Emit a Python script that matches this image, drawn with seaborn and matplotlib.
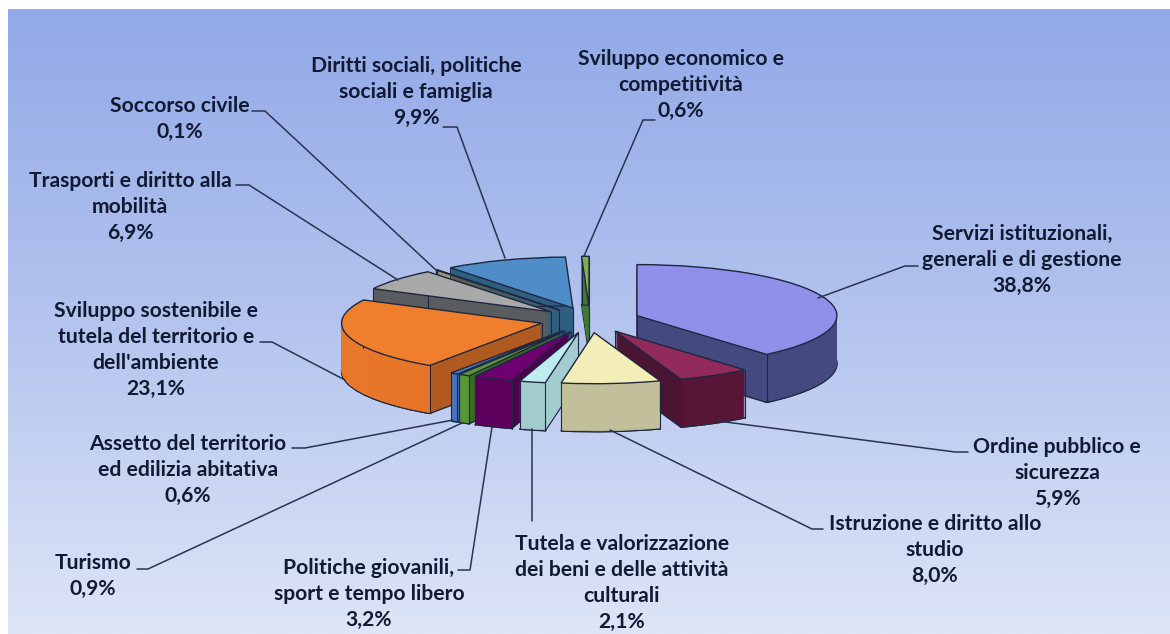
import numpy as np
import matplotlib
matplotlib.use("Agg")
import matplotlib.pyplot as plt
import seaborn as sns

# Dati
labels = [
    "Servizi istituzionali,\ngenerali e di gestione",
    "Ordine pubblico e\nsicurezza",
    "Istruzione e diritto allo\nstudio",
    "Tutela e valorizzazione\ndei beni e delle attività\nculturali",
    "Politiche giovanili,\nsport e tempo libero",
    "Turismo",
    "Assetto del territorio\ned edilizia abitativa",
    "Sviluppo sostenibile e\ntutela del territorio e\ndell'ambiente",
    "Trasporti e diritto alla\nmobilità",
    "Soccorso civile",
    "Diritti sociali, politiche\nsociali e famiglia",
    "Sviluppo economico e\ncompetitività",
]
values = [38.8, 5.9, 8.0, 2.1, 3.2, 0.9, 0.6, 23.1, 6.9, 0.1, 9.9, 0.6]

top_colors = ["#8E90EA", "#922A5B", "#F3EEB8", "#BFEDEF", "#6F0070", "#5F9438",
              "#4F81C4", "#EF7F2D", "#A9A9A9", "#8A6A0A", "#4F8DC8", "#7DB04A"]
radial_colors = ["#44497F", "#4A1433", "#C2C09A", "#A3CCCF", "#4F0050", "#3A6A2A",
                 "#3F68A8", "#B05A20", "#5A5D60", "#8A6400", "#2F5F80", "#3F7A35"]
outer_colors = ["#44497F", "#5A1636", "#C2C09A", "#A3CCCF", "#5F005F", "#5A9A35",
                "#4A76C0", "#E9772A", "#5A5D60", "#8A6400", "#2F5F80", "#3F7A35"]
# ordine di disegno, da dietro in avanti
draw_order = [11, 10, 9, 8, 7, 0, 1, 6, 5, 4, 3, 2]

# posizione dei testi, in pixel
label_x = [1022, 1057, 935, 622, 369, 93, 188, 156, 130, 180, 416, 681]
label_y = [260, 473, 550, 583, 594, 576, 470, 350, 207, 119, 92, 85]

# linee guida, in pixel
leaders = [
    ([918, 905, 818], [266, 266, 298]),
    ([968, 955, 718], [452, 452, 421]),
    ([823, 812, 610], [529, 529, 430]),
    ([532, 532], [521, 429]),
    ([458, 470, 492], [570, 570, 427]),
    ([137, 148, 462], [569, 569, 423]),
    ([292, 305, 453], [448, 448, 420]),
    ([260, 272, 345], [342, 342, 380]),
    ([236, 249, 398], [185, 185, 280]),
    ([252, 265, 437], [111, 111, 271]),
    ([443, 457, 505], [127, 127, 258]),
    ([655, 643, 584], [120, 120, 256]),
]

W, H = 1170, 634
CX, CY = 590, 320       # centro della torta
RX, RY = 200, 51        # semiassi
DEPTH = 48 / RY
N_LAYERS = 96
EDGE = "#1F2740"

sns.set_theme(style="white")
plt.rcParams["font.family"] = ["Lato", "DejaVu Sans"]

fig = plt.figure(figsize=(W / 100, H / 100), dpi=100, facecolor="white")

# Sfondo
ax_bg = fig.add_axes([0, 0, 1, 1])
cmap = sns.blend_palette(["#92A9E8", "#B4C4EE", "#DDE5F6"], as_cmap=True)
ax_bg.imshow(np.linspace(0, 1, 256).reshape(-1, 1), cmap=cmap, aspect="auto",
             extent=(8, W, H, 9))
ax_bg.set_xlim(0, W)
ax_bg.set_ylim(H, 0)
ax_bg.axis("off")

# Torta
ax = fig.add_axes([0, 0, 1, 1], facecolor="none")
explode = [0.25] * len(values)
rank = {s: r for r, s in enumerate(draw_order)}


def layer(drop, colors, z, **wedgeprops):
    wedges, _ = ax.pie(values, explode=explode, colors=colors, center=(0, -drop),
                       startangle=90, counterclock=False, wedgeprops=wedgeprops)
    for i, w in enumerate(wedges):
        w.set_zorder(rank[i] * 10 + z)
    return wedges


for k in range(N_LAYERS, 0, -2):
    drop = k * DEPTH / N_LAYERS
    if k == N_LAYERS:
        layer(drop, radial_colors, 1, lw=1, edgecolor=EDGE)
    else:
        layer(drop, radial_colors, 1, lw=0)
for k in range(N_LAYERS, 0, -1):
    drop = k * DEPTH / N_LAYERS
    if k == N_LAYERS:
        layer(drop, outer_colors, 2, width=0.015, lw=1, edgecolor=EDGE)
    else:
        layer(drop, outer_colors, 2, width=0.015, lw=0)

tops = layer(0, top_colors, 4, lw=1, edgecolor=EDGE)

# spigoli verticali
for i, w in enumerate(tops):
    x0, y0 = w.center
    corners = [(x0, y0)]
    for t in (w.theta1, w.theta2):
        corners.append((x0 + np.cos(np.radians(t)), y0 + np.sin(np.radians(t))))
    for px, py in corners:
        ax.plot([px, px], [py, py - DEPTH], color=EDGE, lw=0.8, zorder=rank[i] * 10 + 3)

ax.set_aspect("auto")
ax.set_xlim((0 - CX) / RX, (W - CX) / RX)
ax.set_ylim((CY - H) / RY, CY / RY)

# Etichette e linee guida
ax_txt = fig.add_axes([0, 0, 1, 1], facecolor="none")
ax_txt.set_xlim(0, W)
ax_txt.set_ylim(H, 0)
ax_txt.axis("off")
for name, v, x, y, (lx, ly) in zip(labels, values, label_x, label_y, leaders):
    ax_txt.plot(lx, ly, color="#2A3350", lw=1.1)
    pct = f"{v:.1f}%".replace(".", ",")
    ax_txt.text(x, y, name + "\n" + pct, ha="center", va="center", fontsize=15.2,
                fontweight="bold", color="#111A33", linespacing=1.38)

fig.savefig("out.png", dpi=100)
